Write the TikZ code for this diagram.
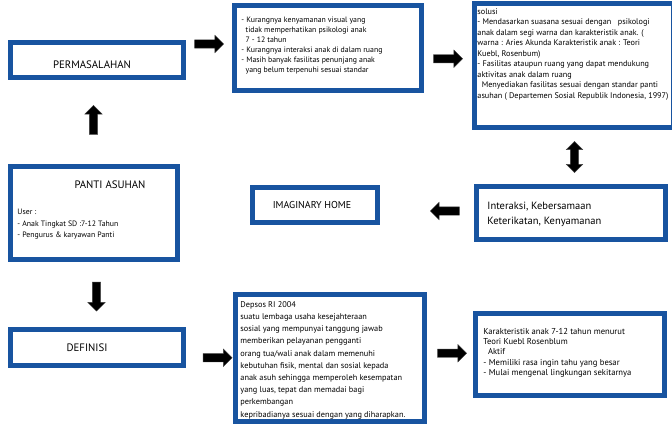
\documentclass[tikz,border=0pt]{standalone}
\usepackage{fontspec}
\setmainfont{PT Sans}
\usetikzlibrary{shapes.arrows,calc}

\definecolor{panelblue}{RGB}{24,84,160}

\tikzset{
  panel/.style={draw=panelblue, line width=4.5pt, fill=white, inner sep=0pt},
  title/.style={font=\fontsize{10.8}{13}\selectfont, inner sep=0pt},
  notes/.style={font=\fontsize{7.8}{10}\selectfont, align=left, anchor=north west, inner sep=0pt},
  blockarrow/.style={single arrow, fill=black, draw=black!75, minimum height=29pt,
    inner xsep=0pt, inner ysep=4pt, single arrow head extend=4.5pt},
  twoway/.style={double arrow, fill=black, draw=black!75, minimum height=31pt,
    inner xsep=0pt, inner ysep=4pt, double arrow head extend=4pt}
}

\begin{document}
\begin{tikzpicture}[x=1pt,y=-1pt]
    \useasboundingbox (0,0) rectangle (672,425);

    % Draw boxes
    \node[panel, minimum width=173pt, minimum height=35pt] (perm) at (97,60) {};
    \node[panel, minimum width=187pt, minimum height=85pt] (prob) at (328,48) {};
    \node[panel, minimum width=199pt, minimum height=124pt] (solusi) at (574,65.5) {};
    \node[panel, minimum width=189pt, minimum height=53pt] (inter) at (571,213) {};
    \node[panel, minimum width=125pt, minimum height=35pt] (imag) at (315,205) {};
    \node[panel, minimum width=167pt, minimum height=93pt] (panti) at (94,213) {};
    \node[panel, minimum width=173pt, minimum height=36pt] (defin) at (97,347.5) {};
    \node[panel, minimum width=189pt, minimum height=127pt] (depsos) at (330,358) {};
    \node[panel, minimum width=189pt, minimum height=82pt] (karak) at (570,354.5) {};

    % Titles
    \node[title, anchor=base] (permtext) at ([shift={(-5,9)}]perm.center) {PERMASALAHAN};
    \node[title, anchor=base] (pantitext) at ([shift={(16,-25)}]panti.center) {PANTI ASUHAN};
    \node[title, anchor=base] (defintext) at ([shift={(-10,4)}]defin.center) {DEFINISI};
    \node[font=\fontsize{10}{11}\selectfont, inner sep=0pt] (imagtext) at ([shift={(-3,0)}]imag.center) {IMAGINARY HOME};

    % Texts in the boxes
    \node[notes] (probtext) at ([shift={(9,14)}]prob.north west) {%
        - Kurangnya kenyamanan visual yang\\
        \ \ tidak memperhatikan psikologi anak\\
        \ \ 7 - 12 tahun\\
        - Kurangnya interaksi anak di dalam ruang\\
        - Masih banyak fasilitas penunjang anak\\
        \ \ yang belum terpenuhi sesuai standar};
    \node[notes, font=\fontsize{8.2}{10.5}\selectfont] (solusitext) at ([shift={(5,7)}]solusi.north west) {%
        solusi\\
        - Mendasarkan suasana sesuai dengan \ \ psikologi\\
        anak dalam segi warna dan karakteristik anak. (\\
        warna : Aries Akunda Karakteristik anak : Teori\\
        Kuebl, Rosenbum)\\
        - Fasilitas ataupun ruang yang dapat mendukung\\
        aktivitas anak dalam ruang\\
        \ \ Menyediakan fasilitas sesuai dengan standar panti\\
        asuhan ( Departemen Sosial Republik Indonesia, 1997)};
    \node[notes, font=\fontsize{10.5}{15}\selectfont] (intertext) at ([shift={(13,18)}]inter.north west) {%
        Interaksi, Kebersamaan\\
        Keterikatan, Kenyamanan};
    \node[notes, font=\fontsize{7.8}{11.5}\selectfont] (pantilist) at ([shift={(9,45)}]panti.north west) {%
        User :\\
        - Anak Tingkat SD :7-12 Tahun\\
        - Pengurus \& karyawan Panti};
    \node[notes, font=\fontsize{8.3}{12.2}\selectfont] (depsostext) at ([shift={(7,9)}]depsos.north west) {%
        Depsos RI 2004\\
        suatu lembaga usaha kesejahteraan\\
        sosial yang mempunyai tanggung jawab\\
        memberikan pelayanan pengganti\\
        orang tua/wali anak dalam memenuhi\\
        kebutuhan fisik, mental dan sosial kepada\\
        anak asuh sehingga memperoleh kesempatan\\
        yang luas, tepat dan memadai bagi\\
        perkembangan\\
        kepribadianya sesuai dengan yang diharapkan.};
    \node[notes, font=\fontsize{8.6}{10.2}\selectfont] (karaktext) at ([shift={(10,17)}]karak.north west) {%
        Karakteristik anak 7-12 tahun menurut\\
        Teori Kuebl Rosenblum\\
        \ \ Aktif\\
        - Memiliki rasa ingin tahu yang besar\\
        - Mulai mengenal lingkungan sekitarnya};

    % Draw block arrows between the boxes
    \node[blockarrow] (a1) at ($(perm.east)!0.5!(prob.west)+(-2,-10)$) {};
    \node[blockarrow] (a2) at ($(prob.east)!0.5!(solusi.west)+(-2,2)$) {};
    \node[twoway, rotate=90] (a3) at ($(solusi.south)!0.5!(inter.north)+(2,0)$) {};
    \node[blockarrow, rotate=180] (a4) at ($(imag.east)!0.5!(inter.west)+(20,2)$) {};
    \node[blockarrow, rotate=90] (a5) at ($(perm.south)!0.5!(panti.north)+(-2,0)$) {};
    \node[blockarrow, rotate=270] (a6) at ($(panti.south)!0.5!(defin.north)+(1,0)$) {};
    \node[blockarrow] (a7) at ($(defin.east)!0.5!(depsos.west)+(6,5)$) {};
    \node[blockarrow] (a8) at ($(depsos.east)!0.5!(karak.west)+(0,-3)$) {};
\end{tikzpicture}
\end{document}
